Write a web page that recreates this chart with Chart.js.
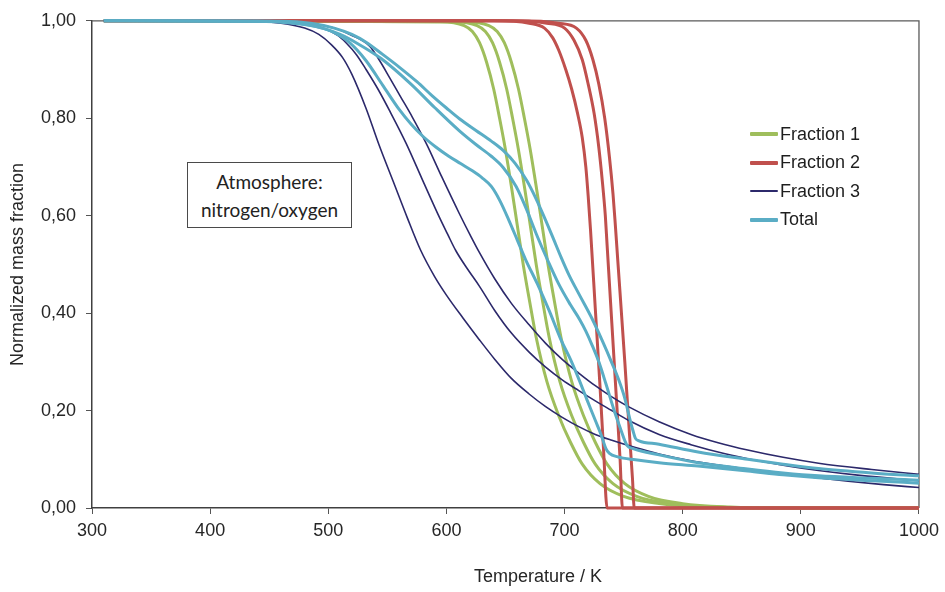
<!DOCTYPE html>
<html>
<head>
<meta charset="utf-8">
<script src="https://cdn.jsdelivr.net/npm/chart.js@4.4.1/dist/chart.umd.min.js"></script>
<style>
  body { margin: 0; background: #fff; }
  #wrap { position: relative; width: 945px; height: 592px; font-family: "Liberation Sans", Arial, sans-serif; color: #222; }
  #note {
    position: absolute; left: 187px; top: 162px; width: 165px; height: 66px;
    box-sizing: border-box; border: 1.5px solid #4a4a4a; background: #fff;
    font-family: Lato, "Open Sans", sans-serif; font-size: 19px; line-height: 28px;
    text-align: center; padding-top: 5px; color: #222;
  }
  #legend { position: absolute; left: 750px; top: 120px; }
  #legend .row { display: flex; align-items: center; height: 28.5px; font-size: 18px; color: #1e1e1e; }
  #legend .sw { display: inline-block; width: 28px; margin-right: 2px; border-radius: 1px; }
  #xtitle { position: absolute; left: 438px; width: 200px; top: 567px; text-align: center; font-size: 18px; line-height: 18px; color: #262626; }
</style>
</head>
<body>
<div id="wrap">
  <canvas id="tga" width="945" height="592"></canvas>
  <div id="note">Atmosphere:<br>nitrogen/oxygen</div>
  <div id="legend"></div>
  <div id="xtitle">Temperature / K</div>
</div>
<script>
// axis ticks
const xTicks = [300, 400, 500, 600, 700, 800, 900, 1000];
const yTicks = [0, 0.2, 0.4, 0.6, 0.8, 1.0];
const yTickLabels = ['0,00', '0,20', '0,40', '0,60', '0,80', '1,00'];

// [temperature K, normalized mass fraction]
const fraction1_a = [[310,1],[595,0.998],[615,0.99],[622,0.978],[628,0.955],[634,0.915],[640,0.86],[645,0.80],[650,0.735],[655,0.66],[660,0.58],[665,0.5],[670,0.43],[676,0.35],[685,0.26],[695,0.19],[705,0.135],[715,0.09],[730,0.05],[750,0.024],[780,0.009],[820,0.002],[860,0],[1000,0]];
const fraction1_b = [[310,1],[606,0.998],[626,0.99],[633,0.978],[639,0.955],[645,0.915],[651,0.86],[656,0.80],[661,0.735],[666,0.66],[671,0.58],[676,0.5],[681,0.43],[687,0.35],[696,0.26],[706,0.19],[716,0.135],[726,0.09],[741,0.05],[761,0.024],[790,0.009],[830,0.002],[870,0],[1000,0]];
const fraction1_c = [[310,1],[616,0.998],[636,0.99],[643,0.978],[649,0.955],[655,0.915],[661,0.86],[666,0.80],[671,0.735],[676,0.66],[681,0.58],[686,0.5],[691,0.43],[697,0.35],[706,0.26],[716,0.19],[726,0.135],[736,0.09],[751,0.05],[771,0.024],[800,0.009],[840,0.002],[880,0],[1000,0]];

const fraction2_a = [[310,1],[640,1],[670,0.995],[683,0.985],[690,0.965],[695,0.94],[701,0.9],[706,0.86],[711,0.81],[715,0.76],[718,0.70],[720,0.64],[722,0.57],[726,0.41],[730,0.25],[733,0.12],[736,0],[1000,0]];
const fraction2_b = [[310,1],[650,1],[685,0.995],[700,0.985],[708,0.96],[715,0.92],[720,0.87],[725,0.81],[729,0.74],[732,0.67],[734.5,0.6],[736,0.54],[740,0.38],[744,0.22],[747,0.1],[749,0],[1000,0]];
const fraction2_c = [[310,1],[660,1],[695,0.995],[710,0.985],[718,0.96],[724,0.92],[729,0.87],[734,0.8],[738,0.72],[741,0.645],[743,0.58],[745,0.51],[751,0.3],[755,0.15],[757.5,0.06],[759,0],[1000,0]];

const fraction3_a = [[310,1],[430,0.999],[460,0.995],[480,0.985],[492,0.972],[503,0.95],[512,0.925],[520,0.89],[532,0.82],[543,0.745],[555,0.67],[567,0.595],[578,0.53],[590,0.475],[600,0.437],[614,0.39],[628,0.345],[641,0.305],[655,0.266],[670,0.234],[684,0.208],[698,0.186],[712,0.167],[726,0.151],[740,0.139],[760,0.124],[780,0.111],[805,0.098],[830,0.088],[855,0.08],[880,0.072],[910,0.063],[940,0.055],[970,0.048],[1000,0.042]];
const fraction3_b = [[310,1],[450,0.999],[475,0.995],[495,0.985],[508,0.97],[515,0.955],[524,0.93],[532,0.9],[542,0.86],[552,0.815],[566,0.748],[580,0.672],[594,0.597],[601,0.562],[608,0.528],[618,0.49],[628,0.455],[641,0.405],[655,0.359],[670,0.32],[684,0.289],[698,0.263],[712,0.241],[726,0.22],[740,0.2],[754,0.18],[780,0.151],[807,0.13],[835,0.112],[864,0.097],[890,0.086],[915,0.077],[950,0.067],[1000,0.056]];
const fraction3_c = [[310,1],[460,0.999],[485,0.995],[505,0.985],[520,0.97],[535,0.948],[543,0.92],[552,0.883],[561,0.845],[571,0.803],[583,0.748],[596,0.68],[611,0.604],[621,0.556],[628,0.524],[641,0.47],[655,0.42],[670,0.376],[684,0.338],[698,0.305],[712,0.277],[726,0.251],[740,0.228],[754,0.208],[780,0.177],[807,0.151],[830,0.134],[855,0.119],[885,0.104],[915,0.092],[960,0.079],[1000,0.069]];

const total_a = [[310,1],[440,0.999],[470,0.995],[490,0.988],[503,0.978],[518,0.955],[532,0.918],[546,0.868],[560,0.818],[570,0.788],[580,0.763],[591,0.741],[602,0.722],[612,0.707],[622,0.692],[630,0.678],[638,0.66],[645,0.632],[653,0.59],[660,0.55],[667,0.51],[677,0.46],[687,0.405],[697,0.345],[705,0.305],[712,0.265],[719,0.222],[726,0.18],[731,0.15],[735,0.122],[738,0.112],[745,0.105],[760,0.099],[780,0.093],[813,0.086],[855,0.076],[885,0.068],[915,0.062],[960,0.056],[1000,0.051]];
const total_b = [[310,1],[450,0.999],[475,0.995],[495,0.985],[510,0.972],[525,0.953],[545,0.922],[570,0.87],[590,0.822],[611,0.774],[625,0.746],[638,0.722],[648,0.699],[659,0.66],[668,0.612],[676,0.563],[686,0.507],[695,0.46],[705,0.417],[713,0.386],[718,0.363],[723,0.336],[729,0.3],[735,0.255],[742,0.2],[748,0.158],[751,0.138],[753,0.128],[758,0.122],[780,0.109],[813,0.093],[855,0.08],[885,0.072],[915,0.066],[960,0.061],[1000,0.057]];
const total_c = [[310,1],[460,0.999],[485,0.995],[505,0.985],[520,0.972],[532,0.956],[546,0.931],[560,0.905],[575,0.875],[588,0.846],[600,0.821],[611,0.799],[625,0.775],[638,0.753],[648,0.734],[658,0.708],[668,0.672],[676,0.634],[683,0.596],[690,0.556],[697,0.515],[704,0.477],[712,0.44],[723,0.39],[732,0.343],[740,0.298],[746,0.262],[751,0.225],[755,0.185],[758,0.158],[760,0.143],[763,0.138],[780,0.131],[813,0.115],[855,0.1],[885,0.09],[915,0.081],[960,0.072],[1000,0.066]];

const groups = [
  { name: 'Fraction 1', color: '#9FBE5C', width: 3,   order: 3, curves: [fraction1_a, fraction1_b, fraction1_c] },
  { name: 'Fraction 2', color: '#C0504D', width: 3,   order: 2, curves: [fraction2_a, fraction2_b, fraction2_c] },
  { name: 'Fraction 3', color: '#2C296B', width: 1.6, order: 1, curves: [fraction3_a, fraction3_b, fraction3_c] },
  { name: 'Total',      color: '#5AADC5', width: 3,   order: 0, curves: [total_a, total_b, total_c] }
];

const font = { family: '"Liberation Sans", Arial, sans-serif', size: 18 };

const datasets = [];
groups.forEach(g => {
  g.curves.forEach(c => {
    datasets.push({
      label: g.name,
      data: c.map(([x, y]) => ({ x, y })),
      borderColor: g.color,
      borderWidth: g.width,
      pointRadius: 0,
      fill: false,
      cubicInterpolationMode: 'monotone',
      clip: 6,
      order: g.order
    });
  });
});

// top and right edges of the plot box
const frame = {
  id: 'frame',
  beforeDatasetsDraw(chart) {
    const { ctx, chartArea: a } = chart;
    ctx.save();
    ctx.strokeStyle = '#5a5a5a';
    ctx.lineWidth = 1.3;
    ctx.beginPath();
    ctx.moveTo(a.left, a.top);
    ctx.lineTo(a.right, a.top);
    ctx.lineTo(a.right, a.bottom);
    ctx.stroke();
    ctx.restore();
  }
};

new Chart(document.getElementById('tga'), {
  type: 'line',
  data: { datasets },
  options: {
    responsive: false,
    animation: false,
    events: [],
    layout: { padding: { top: 20, right: 24, bottom: 0, left: 0 } },
    plugins: { legend: { display: false }, tooltip: { enabled: false } },
    scales: {
      x: {
        type: 'linear', min: 300, max: 1000,
        afterFit(s) { s.height = 84; },
        afterBuildTicks(s) { s.ticks = xTicks.map(v => ({ value: v })); },
        ticks: { font, color: '#262626', padding: 6, maxRotation: 0, callback: v => String(v) },
        grid: { drawOnChartArea: false, tickLength: 6, color: '#555' },
        border: { color: '#404040', width: 1.5 }
      },
      y: {
        type: 'linear', min: 0, max: 1,
        afterFit(s) { s.width = 92; },
        afterBuildTicks(s) { s.ticks = yTicks.map(v => ({ value: v })); },
        ticks: { font, color: '#262626', padding: 10, callback: (v, i) => yTickLabels[i] },
        grid: { drawOnChartArea: false, tickLength: 6, color: '#555' },
        border: { color: '#404040', width: 1.5 },
        title: { display: true, text: 'Normalized mass fraction', font, color: '#262626', padding: { top: 7, bottom: 0 } }
      }
    }
  },
  plugins: [frame]
});

// legend, one entry per group
const legend = document.getElementById('legend');
groups.forEach(g => {
  const row = document.createElement('div');
  row.className = 'row';
  const sw = document.createElement('span');
  sw.className = 'sw';
  sw.style.background = g.color;
  sw.style.height = (g.width < 2 ? 2 : 4) + 'px';
  row.appendChild(sw);
  row.appendChild(document.createTextNode(g.name));
  legend.appendChild(row);
});
</script>
</body>
</html>
